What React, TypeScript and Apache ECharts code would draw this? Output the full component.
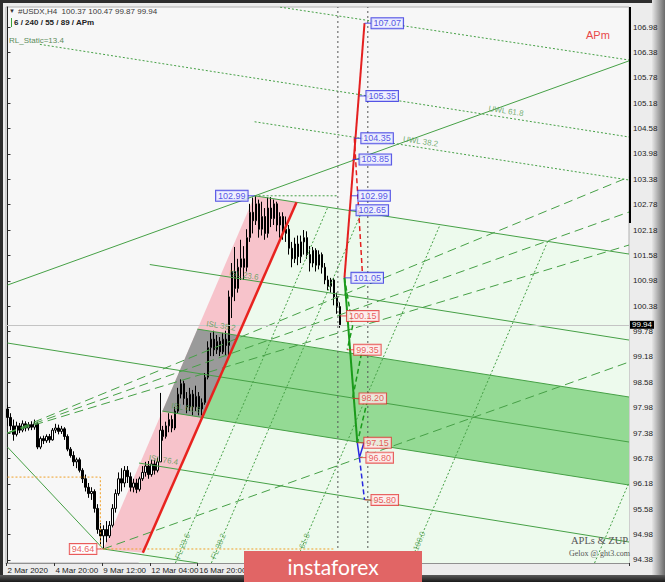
import React, { useEffect, useRef } from "react";
import * as echarts from "echarts";

// ---------- categories (H4 bars) ----------
const tradingDays = ["2 Mar", "3 Mar", "4 Mar", "5 Mar", "6 Mar", "9 Mar", "10 Mar", "11 Mar", "12 Mar", "13 Mar", "16 Mar", "17 Mar", "18 Mar", "19 Mar", "20 Mar", "23 Mar", "24 Mar", "25 Mar", "26 Mar"];
const barHours = ["00:00", "04:00", "08:00", "12:00", "16:00", "20:00"];
const totalSlots = 208; // visible bar slots incl. chart shift
const xTickLabels: [number, string][] = [
  [0, "2 Mar 2020"], [16, "4 Mar 20:00"], [32, "9 Mar 12:00"], [48, "12 Mar 04:00"], [64, "16 Mar 20:00"],
];
const yTickLabels = [94.38, 94.98, 95.58, 96.18, 96.78, 97.38, 97.98, 98.58, 99.18, 99.78, 100.38, 100.98, 101.58, 102.18, 102.78, 103.38, 103.98, 104.58, 105.18, 105.78, 106.38, 106.98];

// ---------- candles: [open, close, low, high] ----------
const candles: number[][] = [
  [97.95, 97.75, 97.55, 98.05], [97.75, 97.55, 97.45, 97.85], [97.55, 97.35, 97.2, 97.7], [97.35, 97.55, 97.3, 97.65], [97.55, 97.45, 97.38, 97.62],
  [97.45, 97.6, 97.4, 97.68], [97.6, 97.5, 97.42, 97.66], [97.5, 97.58, 97.44, 97.64], [97.58, 97.52, 97.45, 97.66], [97.52, 97.6, 97.46, 97.7],
  [97.6, 97.05, 97.0, 97.65], [97.05, 97.25, 97.0, 97.3], [97.25, 97.2, 97.12, 97.32], [97.2, 97.3, 97.15, 97.35], [97.3, 97.22, 97.15, 97.36],
  [97.22, 97.45, 97.2, 97.5], [97.45, 97.5, 97.38, 97.6], [97.5, 97.42, 97.35, 97.58], [97.42, 97.48, 97.36, 97.55], [97.48, 97.3, 97.22, 97.52],
  [97.3, 97.0, 96.95, 97.35], [97.0, 96.85, 96.8, 97.05], [96.85, 96.7, 96.6, 96.95], [96.7, 96.75, 96.55, 96.8], [96.75, 96.5, 96.45, 96.8],
  [96.5, 96.3, 96.2, 96.55], [96.3, 96.1, 96.0, 96.4], [96.1, 95.95, 95.85, 96.2], [95.95, 96.0, 95.8, 96.1], [96.0, 95.6, 95.5, 96.05],
  [95.6, 95.1, 95.0, 95.7], [95.1, 94.95, 94.75, 95.25], [94.95, 95.1, 94.64, 95.2], [95.1, 94.95, 94.8, 95.3], [94.95, 95.2, 94.9, 95.3],
  [95.2, 95.6, 95.15, 95.7], [95.6, 95.95, 95.5, 96.05], [95.95, 96.3, 95.9, 96.45], [96.3, 96.2, 96.0, 96.55], [96.2, 96.5, 96.1, 96.6],
  [96.5, 96.35, 96.2, 96.6], [96.35, 96.1, 96.0, 96.45], [96.1, 96.2, 95.98, 96.3], [96.2, 96.05, 95.96, 96.3], [96.05, 96.3, 96.0, 96.35],
  [96.3, 96.45, 96.25, 96.6], [96.45, 96.6, 96.35, 96.7], [96.6, 96.4, 96.3, 96.72], [96.4, 96.65, 96.35, 96.75], [96.65, 96.5, 96.4, 96.75],
  [96.5, 96.7, 96.45, 96.8], [96.7, 97.45, 96.7, 98.33], [97.45, 97.3, 97.2, 97.55], [97.3, 97.55, 97.25, 97.65], [97.55, 97.7, 97.4, 97.85],
  [97.7, 97.5, 97.4, 97.8], [97.5, 97.9, 97.45, 98.0], [97.9, 98.3, 97.85, 98.45], [98.3, 98.55, 98.2, 98.65], [98.55, 98.2, 98.05, 98.62],
  [98.2, 98.0, 97.85, 98.35], [98.0, 98.3, 97.9, 98.45], [98.3, 98.0, 97.8, 98.4], [98.0, 98.25, 97.9, 98.5], [98.25, 97.95, 97.8, 98.35],
  [97.95, 98.1, 97.8, 98.2], [98.1, 98.7, 98.05, 98.8], [98.7, 99.4, 98.65, 99.55], [99.4, 99.6, 99.2, 99.75], [99.6, 99.35, 99.2, 99.8],
  [99.35, 99.55, 99.25, 99.7], [99.55, 99.3, 99.2, 99.65], [99.3, 99.6, 99.25, 99.75], [99.6, 99.45, 99.2, 99.8], [99.45, 100.6, 99.2, 100.75],
  [100.6, 101.2, 100.1, 101.4], [101.2, 100.8, 100.5, 101.78], [100.8, 101.3, 100.7, 101.5], [101.3, 101.5, 101.0, 101.95], [101.5, 101.3, 101.0, 101.8],
  [101.3, 102.0, 101.2, 102.2], [102.0, 102.6, 101.9, 102.8], [102.6, 102.4, 102.1, 102.95], [102.4, 102.8, 102.3, 102.99], [102.8, 102.2, 102.0, 102.9],
  [102.2, 102.5, 102.05, 102.85], [102.5, 102.1, 101.95, 102.7], [102.1, 102.7, 102.0, 102.95], [102.7, 102.45, 102.25, 102.96], [102.45, 102.8, 102.3, 102.9],
  [102.8, 102.3, 102.15, 102.85], [102.3, 102.5, 102.0, 102.6], [102.5, 102.1, 101.95, 102.6], [102.1, 102.2, 101.9, 102.5], [102.2, 101.75, 101.6, 102.3],
  [101.75, 101.5, 101.3, 101.9], [101.5, 101.85, 101.4, 102.0], [101.85, 101.55, 101.35, 102.05], [101.55, 101.9, 101.4, 102.05], [101.9, 102.0, 101.6, 102.18],
  [102.0, 101.6, 101.5, 102.15], [101.6, 101.4, 101.2, 101.8], [101.4, 101.7, 101.3, 101.78], [101.7, 101.35, 101.2, 101.75], [101.35, 101.6, 101.25, 101.7],
  [101.6, 101.3, 101.15, 101.65], [101.3, 101.0, 100.9, 101.4], [101.0, 100.85, 100.76, 101.1], [100.85, 101.0, 100.7, 101.05], [101.0, 100.6, 100.4, 101.05],
  [100.6, 100.37, 100.2, 100.7], [100.37, 99.94, 99.87, 100.47],
];

// ---------- annotation geometry, [bar index, price] ----------
const pinkChannel = [[32, 94.64], [82.5, 102.99], [96.5, 102.84], [45.2, 94.55]];
const lightGreenZone = [[43.7, 94.309], [96.5, 102.84], [207.5, 101.613], [207.5, 94.309]];
const greenBand = [[76.81, 99.686], [207.5, 98.233], [207.5, 96.152], [64.89, 97.751]];
const grayBand = [[51.71, 97.899], [63.43, 99.838], [76.81, 99.686], [64.89, 97.751]];
const redChannelLine = [[45.2, 94.55], [96.5, 102.84]];

const solidGreenLines = [
  [[0, 100.88], [207.5, 106.18]],
  [[82.5, 102.99], [207.5, 101.613]],
  [[47.5, 101.365], [207.5, 99.58]],
  [[63.43, 99.838], [207.5, 98.233]],
  [[0, 99.509], [207.5, 97.169]],
  [[51.71, 97.899], [207.5, 96.152]],
  [[43.9, 96.672], [207.5, 94.805]],
  [[32, 94.64], [63.5, 94.31]],
  [[0, 97.05], [32, 94.64]],
];
const dashedGreenLines = [
  [[0, 97.382], [207.5, 103.434]],
  [[0, 97.382], [207.5, 102.606]],
  [[0, 97.382], [207.5, 101.826]],
  [[32, 94.64], [207.5, 99.06]],
];
const dottedGreenLines = [
  [[91, 107.45], [207.5, 106.2]],
  [[10.8, 106.57], [207.5, 104.38]],
  [[82.5, 104.74], [207.5, 103.363]],
  [[82.5, 102.99], [110.3, 102.99]],
  [[56.06, 94.309], [106.93, 102.72]],
  [[68.06, 94.309], [118.18, 102.597]],
  [[96.06, 94.309], [144.43, 102.307]],
  [[134.36, 94.309], [180.34, 101.912]],
  [[196.0, 94.309], [207.5, 96.21]],
];
const orangeDotted = [
  [[0, 96.34], [31, 96.34], [31, 94.64]],
  [[32, 94.64], [109, 94.64]],
];
const verticalMarkers = [110.3, 120.3];

const redProjection = [[112.5, 101.05], [119.2, 107.07]];
const redProjectionDashed = [[115.8, 104.35], [118.5, 101.15]];
const greenProjection = [[112.5, 101.05], [116.8, 97.15]];
const greenProjectionDashed = [
  [[112.5, 101.05], [115.2, 99.9], [113.4, 99.35]],
  [[118.2, 99.27], [115.2, 98.2]],
  [[120.2, 98.16], [116.8, 97.15]],
];
const blueProjection = [[116.8, 97.15], [117.5, 96.8], [119.0, 97.15]];
const blueProjectionDashed = [[117.5, 96.8], [119.2, 95.8]];

const blueLevels = [[119.2, 107.07], [117.5, 105.35], [115.8, 104.35], [115.2, 103.85], [114.8, 102.99], [114.2, 102.65], [112.5, 101.05]];
const redLevels = [[111, 100.15], [113.4, 99.35], [115.2, 98.2], [116.8, 97.15], [117.5, 96.8], [119.2, 95.8]];
const peakLevel = [[82.5, 102.99]];
const lowLevel = [[32, 94.64]];

const uwlPoints = [[129.5, 104.2], [158, 104.92]];
const uwlTexts = ["UWL 38.2", "UWL 61.8"];
const islPoints = [[71.08, 101.04], [63.43, 99.838], [51.71, 97.899], [44.26, 96.668]];
const islTexts = ["ISL 23.6", "ISL 38.2", "ISL 61.8", "ISL 76.4"];
const flPoints = [[59.63, 94.9], [71.63, 94.9], [99.63, 94.9], [137.93, 94.9]];
const flTexts = ["FL 23.6", "FL 38.2", "FL 61.8", "FL 100.0"];

const GREEN = "#46a046";
const FONT = "Liberation Sans";

function buildCategories(): string[] {
  const out: string[] = [];
  tradingDays.forEach((d, di) => {
    barHours.forEach((h, hi) => {
      if (di === 0 && hi === 0) return;
      if (out.length < candles.length) out.push(`${d} ${h}`);
    });
  });
  while (out.length < totalSlots) out.push("");
  return out;
}

function lineSeries(data: any, color: string, width: number, type: any, z = 4) {
  return {
    type: "line", xAxisIndex: 1, yAxisIndex: 0, data, symbol: "none", silent: true, z,
    lineStyle: { color, width, type }, clip: true, animation: false,
  };
}

function boxLabels(points: number[][], color: string, bg: string, side: "left" | "right") {
  return {
    type: "scatter", xAxisIndex: 1, yAxisIndex: 0, data: points, z: 8, silent: true,
    symbol: "rect", symbolSize: [7, 1], symbolOffset: [side === "right" ? 3.5 : -3.5, 0],
    itemStyle: { color },
    label: {
      show: true, position: side, distance: 0,
      formatter: (p: any) => Number(p.value[1]).toFixed(2),
      color, backgroundColor: bg, borderColor: color, borderWidth: 1,
      padding: [1, 2, 0, 2], fontSize: 9, lineHeight: 9, fontFamily: FONT,
    },
  };
}

function textLabels(points: number[][], texts: string[], rotate: number, offset: number[], position: any) {
  return {
    type: "scatter", xAxisIndex: 1, yAxisIndex: 0, symbolSize: 0, z: 6, silent: true,
    data: points.map((p, k) => ({ value: p, label: { formatter: texts[k] } })),
    label: { show: true, position, rotate, offset, color: "#4f9a4f", fontSize: 8, fontFamily: FONT },
  };
}

function polygonSeries(polys: { pts: number[][]; color: string }[], z: number) {
  return {
    type: "custom", xAxisIndex: 1, yAxisIndex: 0, z, silent: true,
    data: polys.map((_, k) => [k, 100]),
    renderItem: (params: any, api: any) => {
      const poly = polys[params.dataIndex];
      return {
        type: "polygon",
        shape: { points: poly.pts.map((p) => api.coord(p)) },
        style: { fill: poly.color },
      };
    },
  };
}

export default function App() {
  const ref = useRef<HTMLDivElement>(null);
  useEffect(() => {
    const chart = echarts.init(ref.current!, null, { renderer: "svg" });
    const cats = buildCategories();
    const tickMap: Record<number, string> = {};
    xTickLabels.forEach(([i, s]) => (tickMap[i] = s));
    const last = candles[candles.length - 1];
    const header = `#USDX,H4  ${last[0].toFixed(2)} ${last[3].toFixed(2)} ${last[2].toFixed(2)} ${last[1].toFixed(2)}`;

    const series: any[] = [];
    series.push(polygonSeries([
      { pts: lightGreenZone, color: "#edfaed" },
      { pts: pinkChannel, color: "#f7c3cb" },
      { pts: greenBand, color: "#94da94" },
      { pts: grayBand, color: "#9a9a9a" },
    ], 1));
    series.push({
      type: "candlestick", xAxisIndex: 0, yAxisIndex: 0, data: candles, z: 3, barWidth: 2,
      itemStyle: { color: "#ffffff", color0: "#000000", borderColor: "#000000", borderColor0: "#000000", borderWidth: 1 },
      markLine: {
        silent: true, symbol: ["none", "none"], animation: false,
        lineStyle: { color: "#c4c4c4", width: 1, type: "solid" },
        label: {
          show: true, position: "end", distance: 1, formatter: () => last[1].toFixed(2),
          color: "#ffffff", backgroundColor: "#000000", padding: [0, 2, 0, 2], fontSize: 8, lineHeight: 8, fontFamily: FONT,
        },
        data: [{ yAxis: last[1] }],
      },
    });
    solidGreenLines.forEach((l) => series.push(lineSeries(l, GREEN, 1, "solid")));
    dashedGreenLines.forEach((l) => series.push(lineSeries(l, GREEN, 1, [9, 5])));
    dottedGreenLines.forEach((l) => series.push(lineSeries(l, GREEN, 1, [2, 2])));
    orangeDotted.forEach((l) => series.push(lineSeries(l, "#f0a028", 1, [2, 2])));
    verticalMarkers.forEach((x) => series.push(lineSeries([[x, 94.309], [x, 107.453]], "#555555", 1, [2, 3])));
    series.push(lineSeries(redChannelLine, "#e8231f", 2.5, "solid", 5));
    series.push(lineSeries(redProjection, "#e42020", 2, "solid", 6));
    series.push(lineSeries(redProjectionDashed, "#e42020", 1.5, [5, 3], 6));
    series.push(lineSeries(greenProjection, "#1a9a1a", 2, "solid", 6));
    greenProjectionDashed.forEach((l) => series.push(lineSeries(l, "#1a9a1a", 1.5, [5, 3], 6)));
    series.push(lineSeries(blueProjection, "#2828e0", 1.5, "solid", 6));
    series.push(lineSeries(blueProjectionDashed, "#2828e0", 1.5, [5, 3], 6));
    series.push(boxLabels(blueLevels, "#2a2ae0", "#eceeff", "right"));
    series.push(boxLabels(redLevels, "#e53333", "#ffecec", "right"));
    series.push(boxLabels(peakLevel, "#2a2ae0", "#eceeff", "left"));
    series.push(boxLabels(lowLevel, "#e53333", "#ffffff", "left"));
    series.push(textLabels(uwlPoints, uwlTexts, -8.5, [2, -6], "right"));
    series.push(textLabels(islPoints, islTexts, -9, [3, -6], "right"));
    series.push(textLabels(flPoints, flTexts, 67, [-9, 0], "inside"));

    const option: any = {
      animation: false,
      backgroundColor: "#2e2e2e",
      grid: { left: 6, right: 36, top: 7, bottom: 19, show: true, backgroundColor: "#f7f7f7", borderColor: "#b0b0b0", borderWidth: 1 },
      xAxis: [
        {
          type: "category", data: cats, boundaryGap: true, gridIndex: 0,
          axisLine: { show: true, lineStyle: { color: "#909090" } },
          axisTick: { show: true, interval: (i: number) => tickMap[i] !== undefined, length: 3, lineStyle: { color: "#333" } },
          axisLabel: {
            interval: (i: number) => tickMap[i] !== undefined,
            formatter: (_v: string, i: number) => tickMap[i] ?? "",
            align: "left", fontSize: 8, color: "#222", margin: 3, fontFamily: FONT,
          },
          splitLine: { show: false },
        },
        { type: "value", min: -0.5, max: 207.5, show: false, gridIndex: 0 },
      ],
      yAxis: {
        type: "value", position: "right", min: 94.309, max: 107.453, scale: true,
        axisLine: { show: true, lineStyle: { color: "#222", width: 1 } },
        axisTick: { show: true, length: 3, customValues: yTickLabels, lineStyle: { color: "#333" } },
        axisLabel: { customValues: yTickLabels, formatter: (v: number) => v.toFixed(2), fontSize: 8, color: "#222", margin: 4, fontFamily: FONT },
        splitLine: { show: false },
      },
      graphic: {
        elements: [
          { type: "rect", z: -20, silent: true, shape: { x: 3, y: 3, width: 652, height: 572 }, style: { fill: "#ececec" } },
          {
            type: "rect", z: -19, silent: true, shape: { x: 652, y: 0, width: 13, height: 582 },
            style: { fill: new echarts.graphic.LinearGradient(0, 0, 1, 0, [{ offset: 0, color: "#e6e6e6" }, { offset: 1, color: "#6a6a6a" }]) },
          },
          {
            type: "rect", z: -19, silent: true, shape: { x: 0, y: 575, width: 665, height: 7 },
            style: { fill: new echarts.graphic.LinearGradient(0, 0, 0, 1, [{ offset: 0, color: "#5a5a5a" }, { offset: 1, color: "#1a1a1a" }]) },
          },
          { type: "rect", z: 20, silent: true, shape: { x: 629, y: 7, width: 2, height: 216 }, style: { fill: "#000" } },
          { type: "text", z: 20, left: 9, top: 8, style: { text: "▼", fontSize: 6, fill: "#333" } },
          { type: "text", z: 20, left: 18, top: 7, style: { text: header, fontSize: 8, fill: "#3a3a3a", fontFamily: FONT } },
          { type: "rect", z: 20, shape: { x: 11, y: 18, width: 1, height: 9 }, style: { fill: "#3aa03a" } },
          { type: "text", z: 20, left: 14, top: 18, style: { text: "6 / 240 / 55 / 89 / APm", fontSize: 8, fontWeight: "bold", fill: "#222", fontFamily: FONT } },
          { type: "text", z: 20, left: 9, top: 36, style: { text: "RL_Static=13.4", fontSize: 8, fill: "#5b8c5b", fontFamily: FONT } },
          { type: "text", z: 20, left: 586, top: 29, style: { text: "APm", fontSize: 11, fill: "#e84848", fontFamily: FONT } },
          { type: "text", z: 20, left: 571, top: 535, style: { text: "APLs & ZUP", fontSize: 10.5, fill: "#555", fontFamily: "Liberation Serif" } },
          { type: "text", z: 20, left: 569, top: 549, style: { text: "Gelox @ ght3.com", fontSize: 8, fill: "#555", fontFamily: "Liberation Serif" } },
          { type: "rect", z: 30, shape: { x: 244, y: 551, width: 178, height: 31 }, style: { fill: "#e16565" } },
          {
            type: "text", z: 31, x: 333, y: 566,
            style: { text: "instaforex", fontSize: 21, fill: "#ffffff", fontFamily: "Lato", align: "center", verticalAlign: "middle" },
          },
        ],
      },
      series,
    };
    chart.setOption(option);
    return () => chart.dispose();
  }, []);
  return <div ref={ref} style={{ position: "fixed", left: 0, top: 0, width: 665, height: 582 }} />;
}
